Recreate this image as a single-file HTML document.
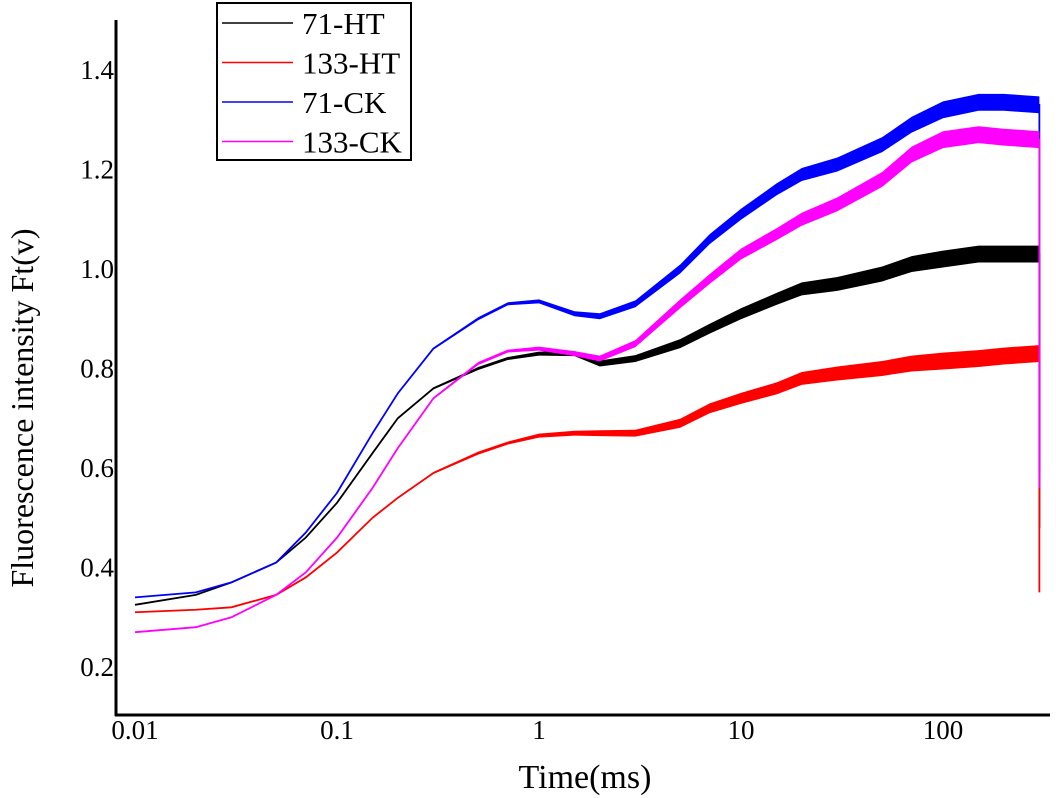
<!DOCTYPE html>
<html><head><meta charset="utf-8"><style>
html,body{margin:0;padding:0;background:#fff;}
svg{display:block;font-family:"Liberation Serif",serif;}
</style></head><body>
<svg id="chart" width="1056" height="798" viewBox="0 0 1056 798">
<g id="plot"></g>
<line x1="116" y1="20" x2="116" y2="716" stroke="#000" stroke-width="3"/>
<line x1="115" y1="715" x2="1050" y2="715" stroke="#000" stroke-width="3"/>
<g id="yticks"></g>
<g id="xticks"></g>
<text transform="translate(33,408) rotate(-90)" text-anchor="middle" font-size="32">Fluorescence intensity Ft(v)</text>
<text x="585" y="788" text-anchor="middle" font-size="34">Time(ms)</text>
<g>
<rect x="217" y="3" width="194" height="157" fill="#fff" stroke="#000" stroke-width="2"/>
<g id="legend-items"></g>
</g>
</svg>
<script>
const times=[0.01,0.02,0.03,0.05,0.07,0.1,0.15,0.2,0.3,0.5,0.7,1,1.5,2,3,5,7,10,15,20,30,50,70,100,150,200,300];
const ht71=[0.325,0.345,0.37,0.41,0.46,0.53,0.63,0.70,0.76,0.80,0.82,0.83,0.83,0.81,0.82,0.85,0.88,0.91,0.94,0.96,0.97,0.99,1.01,1.02,1.03,1.03,1.03];
const ht133=[0.31,0.315,0.32,0.345,0.38,0.43,0.50,0.54,0.59,0.63,0.65,0.665,0.67,0.67,0.67,0.69,0.72,0.74,0.76,0.78,0.79,0.80,0.81,0.815,0.82,0.825,0.83];
const ck71=[0.34,0.35,0.37,0.41,0.47,0.55,0.67,0.75,0.84,0.90,0.93,0.935,0.91,0.905,0.93,1.00,1.06,1.11,1.16,1.19,1.21,1.25,1.29,1.32,1.335,1.335,1.33];
const ck133=[0.27,0.28,0.30,0.345,0.39,0.46,0.56,0.64,0.74,0.81,0.835,0.84,0.83,0.82,0.85,0.93,0.98,1.03,1.07,1.10,1.13,1.18,1.23,1.26,1.27,1.265,1.26];
const noise=[0,0,0,0,0,0,0,0,0.002,0.003,0.003,0.004,0.005,0.006,0.007,0.009,0.010,0.011,0.012,0.013,0.014,0.015,0.016,0.017,0.017,0.017,0.017];
const endDrop=[0.48,0.35,0.59,0.56];
const seriesNames=["71-HT","133-HT","71-CK","133-CK"];
const seriesColors=["#000000","#ff0000","#0000ff","#ff00ff"];
const seriesValues=[ht71,ht133,ck71,ck133];
const yTicks=[0.2,0.4,0.6,0.8,1.0,1.2,1.4];
const xTicks=[0.01,0.1,1,10,100];
const xTickLabels=["0.01","0.1","1","10","100"];

const NS="http://www.w3.org/2000/svg";
function xs(t){return 135+(Math.log10(t)+2)*202;}
function ys(v){return 70+(1.4-v)*497.5;}
function mk(tag,attrs,parent){const e=document.createElementNS(NS,tag);for(const k in attrs)e.setAttribute(k,attrs[k]);parent.appendChild(e);return e;}

const yt=document.getElementById('yticks');
yTicks.forEach(v=>{const t=mk('text',{x:114,y:ys(v)+9,'text-anchor':'end','font-size':27},yt);


t.textContent=v.toFixed(1);});
const xt=document.getElementById('xticks');
xTicks.forEach((v,i)=>{const t=mk('text',{x:xs(v),y:739,'text-anchor':'middle','font-size':27},xt);


t.textContent=xTickLabels[i];});

const plot=document.getElementById('plot');
seriesValues.forEach((vals,si)=>{
  const g=mk('g',{},plot);
  
  
  const top=[],bot=[];
  times.forEach((t,i)=>{top.push(xs(t)+','+ys(vals[i]+noise[i]));bot.unshift(xs(t)+','+ys(vals[i]-noise[i]));});
  const band=mk('polygon',{points:top.concat(bot).join(' '),fill:seriesColors[si],stroke:'none'},g);
  
  
  const pts=times.map((t,i)=>xs(t)+','+ys(vals[i]));
  const last=times[times.length-1];
  pts.push(xs(last)+','+ys(endDrop[si]));
  const ln=mk('polyline',{points:pts.join(' '),fill:'none',stroke:seriesColors[si],'stroke-width':1.8},g);
  
  
});

const li=document.getElementById('legend-items');
seriesNames.forEach((n,i)=>{
  const y=23+i*39.5;
  const l=mk('line',{x1:222,x2:293,y1:y,y2:y,stroke:seriesColors[i],'stroke-width':1.6},li);
  
  
  const t=mk('text',{x:302,y:y+11,'font-size':31},li);
  
  
  t.textContent=n;
});
</script>
</body></html>
